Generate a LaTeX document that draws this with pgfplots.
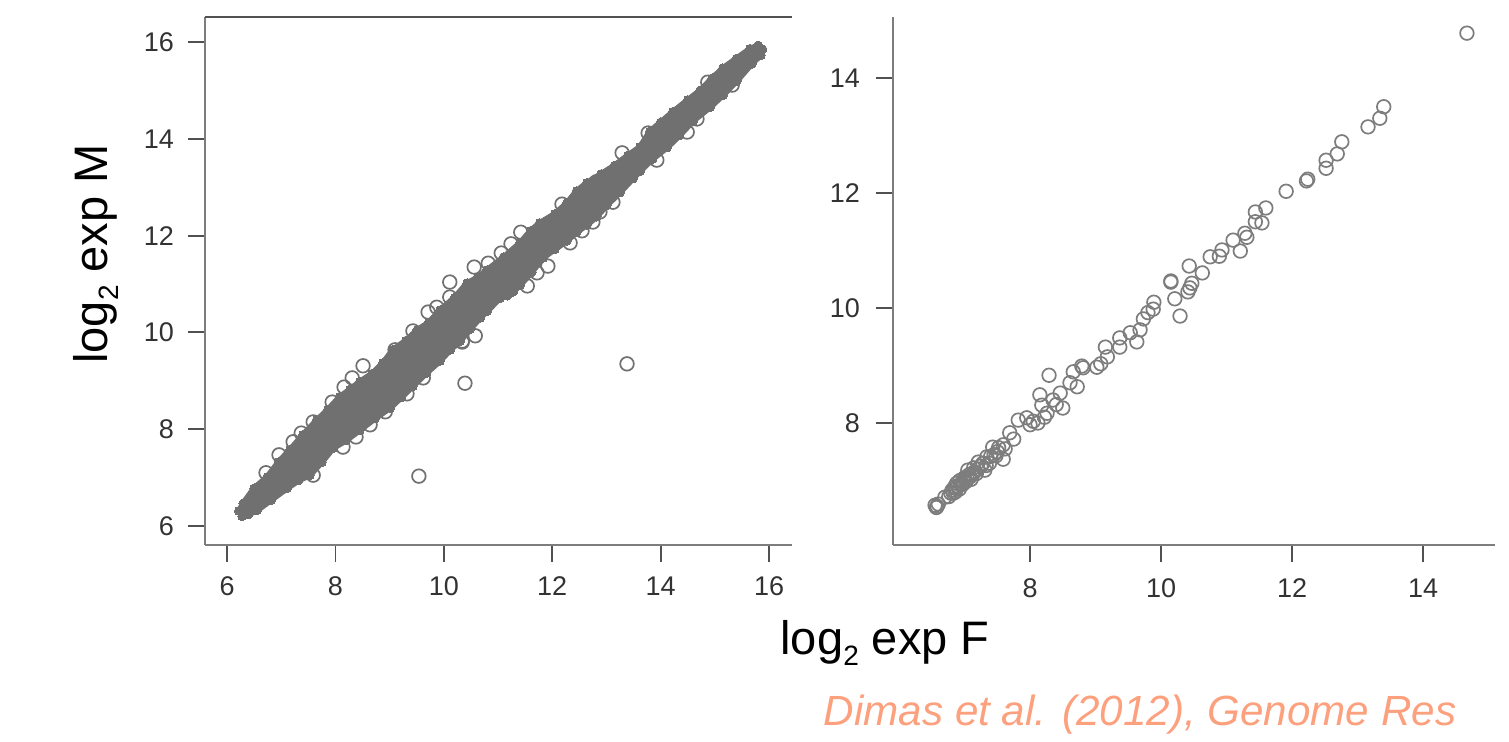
\documentclass[border=0pt]{standalone}
\usepackage{pgfplots}
\usepackage{pgfplotstable}
\pgfplotsset{compat=1.18}
\usepackage{fontspec}
\setmainfont{Liberation Sans}
\definecolor{pt}{RGB}{112,112,112}
\definecolor{ptr}{RGB}{125,125,125}
\definecolor{sp}{RGB}{125,125,125}
\definecolor{tx}{RGB}{50,50,50}
\definecolor{cite}{RGB}{252,160,125}
\pgfplotstableread[row sep=\\]{
x y\\
6.22 6.31\\ 6.30 6.47\\ 6.50 6.78\\ 6.74 7.01\\ 6.95 7.32\\ 7.16 7.57\\ 7.40 7.88\\ 7.66 8.19\\ 7.86 8.40\\ 8.08 8.67\\ 8.27 8.82\\ 8.45 8.98\\ 8.68 9.15\\ 8.88 9.37\\ 9.06 9.64\\ 9.30 9.83\\ 9.51 10.05\\ 9.72 10.20\\ 9.93 10.46\\ 10.20 10.72\\ 10.43 11.02\\ 10.62 11.13\\ 10.80 11.29\\ 11.10 11.55\\ 11.41 11.85\\ 11.60 12.10\\ 11.77 12.26\\ 12.05 12.45\\ 12.27 12.67\\ 12.45 12.92\\ 12.64 13.09\\ 12.90 13.27\\ 13.15 13.45\\ 13.40 13.66\\ 13.62 13.83\\ 13.80 14.15\\ 14.00 14.34\\ 14.23 14.56\\ 14.50 14.80\\ 14.73 15.00\\ 14.95 15.25\\ 15.15 15.46\\ 15.40 15.66\\ 15.65 15.86\\ 15.80 15.93\\ 15.88 15.85\\ 15.85 15.73\\
15.68 15.55\\ 15.41 15.20\\ 15.15 14.90\\ 14.91 14.65\\ 14.60 14.37\\ 14.35 14.07\\ 14.12 13.82\\ 13.85 13.58\\ 13.62 13.33\\ 13.49 13.18\\ 13.25 12.89\\ 13.01 12.63\\ 12.82 12.39\\ 12.64 12.22\\ 12.45 12.07\\ 12.27 11.89\\ 12.05 11.72\\ 11.83 11.54\\ 11.62 11.24\\ 11.41 10.98\\ 11.28 10.84\\ 11.17 10.76\\ 11.04 10.71\\ 10.80 10.44\\ 10.67 10.30\\ 10.48 10.06\\ 10.30 9.82\\ 10.12 9.64\\ 9.93 9.41\\ 9.68 9.16\\ 9.43 8.89\\ 9.22 8.66\\ 9.01 8.44\\ 8.73 8.22\\ 8.45 7.98\\ 8.20 7.77\\ 7.96 7.61\\ 7.75 7.32\\ 7.53 7.05\\ 7.32 6.94\\ 7.11 6.78\\ 6.82 6.54\\ 6.55 6.32\\ 6.40 6.24\\ 6.28 6.20\\
}\bandtable
\pgfplotsset{
  base/.style={
    scale only axis, height=264pt,
    axis x line=bottom, axis y line=left,
    axis line style={-, draw=sp, line width=1.2pt},
    tick align=outside, major tick length=8.5pt,
    tick style={draw=tx!85!white, line width=0.9pt},
    every tick label/.style={font=\fontsize{13.5}{15}\selectfont, text=tx},
    /pgf/number format/assume math mode=true,
    clip=false,
  },
  pts/.style={only marks, mark=o, mark size=3.4pt, mark options={draw=pt, line width=0.85pt}},
  ptsr/.style={only marks, mark=o, mark size=3.4pt, mark options={draw=ptr, line width=0.85pt}},
}
\newcommand{\sub}{\raisebox{-5.5pt}{\fontsize{14}{14}\selectfont 2}}
\begin{document}
\begin{tikzpicture}[x=1pt,y=1pt]
\path (0,0) rectangle (754.5,370);
\begin{axis}[base, at={(102.5pt,97.5pt)}, anchor=south west, width=293.5pt,
  xmin=5.594, xmax=16.424, ymin=5.607, ymax=16.517,
  xtick={6,8,10,12,14,16}, ytick={6,8,10,12,14,16},
  xticklabel style={yshift=-4pt}, yticklabel style={xshift=-3.5pt}]
\addplot[fill=pt, draw=pt, line width=3pt, line join=round] table {\bandtable} --cycle;
\addplot[only marks, mark=*, mark size=2.2pt, mark options={fill=pt, draw=pt, line width=0pt}] table {\bandtable};
\addplot[pts] coordinates {
(9.54,7.03)(10.39,8.95)(13.38,9.35)
(8.51,9.31)(8.31,9.06)(8.16,8.87)(7.94,8.56)(7.59,8.15)(7.37,7.92)(7.22,7.74)(6.96,7.47)(6.72,7.10)(7.59,7.05)(8.14,7.63)(8.38,7.84)(8.64,8.09)(8.92,8.36)(9.32,8.73)(9.62,9.06)(10.34,9.82)(10.58,9.93)(9.71,10.42)(9.87,10.52)(9.43,10.03)(9.10,9.64)
(10.11,11.04)(10.56,11.35)(10.82,11.43)(11.06,11.64)(11.42,12.07)(11.24,11.83)(12.18,12.65)(11.92,11.37)(11.72,11.23)(11.54,10.96)(10.34,9.80)(10.11,10.73)(12.33,11.85)(12.55,12.10)(12.75,12.28)(12.88,12.49)(13.12,12.69)
(14.87,15.17)(14.49,14.14)(13.93,13.56)(14.67,14.41)(13.77,14.12)(15.32,15.11)(13.29,13.71)(12.81,13.11)(14.43,14.60)
};
\draw[draw=tx!85!white, line width=0.8pt] (rel axis cs:0,1) -- (rel axis cs:1,1);
\end{axis}
\begin{axis}[base, at={(446.5pt,97.5pt)}, anchor=south west, width=301pt,
  xmin=5.908, xmax=15.099, ymin=5.878, ymax=15.061,
  xtick={8,10,12,14}, ytick={8,10,12,14},
  xticklabel style={yshift=-5pt}, yticklabel style={xshift=-4.5pt}]
\addplot[ptsr] coordinates {
(14.67,14.78)(13.40,13.50)(13.34,13.30)(13.16,13.15)(12.76,12.89)(12.69,12.68)(12.52,12.57)(12.52,12.43)(12.24,12.24)(12.22,12.21)(11.91,12.03)(11.60,11.74)(11.44,11.67)(11.54,11.48)(11.44,11.50)(11.28,11.30)(11.31,11.23)(11.10,11.18)(11.21,10.99)(10.93,11.01)(10.75,10.89)(10.89,10.90)(10.63,10.61)(10.43,10.73)(10.15,10.47)(10.15,10.45)(10.47,10.43)(10.44,10.35)(10.41,10.28)(10.21,10.16)(10.29,9.86)(9.89,10.10)(9.88,9.98)(9.73,9.81)(9.80,9.92)
(9.68,9.62)(9.63,9.41)(9.53,9.57)(9.37,9.48)(9.37,9.32)(9.15,9.32)(9.18,9.15)(9.02,8.97)(9.08,9.03)(8.79,8.99)(8.81,8.96)(8.66,8.89)(8.72,8.63)(8.61,8.70)(8.29,8.83)(8.46,8.52)(8.15,8.49)(8.50,8.26)(8.35,8.40)(8.18,8.31)(8.26,8.17)(8.12,8.00)(7.95,8.09)(7.82,8.05)(8.00,7.97)(7.69,7.83)(7.59,7.62)(7.43,7.58)(7.59,7.37)(7.34,7.41)(7.21,7.32)(7.31,7.18)(7.05,7.18)(7.08,7.06)(6.93,7.00)(6.85,6.89)(6.81,6.83)(6.70,6.71)(6.55,6.57)(6.58,6.55)(6.60,6.59)(6.57,6.53)
(7.50,7.50)(7.45,7.45)(7.38,7.30)(7.25,7.25)(7.15,7.15)(7.10,7.02)(7.00,7.05)(6.97,6.93)(6.92,6.85)(6.88,6.95)(6.86,6.80)(7.75,7.72)(7.62,7.55)(8.22,8.10)(8.05,8.03)(8.40,8.32)
(6.76,6.72)(6.79,6.78)(6.83,6.78)(6.87,6.86)(6.90,6.90)(6.95,6.95)(6.98,6.99)(7.02,6.98)(7.04,7.04)(7.07,7.10)(7.12,7.10)(7.18,7.12)(7.14,7.22)(7.20,7.20)(7.28,7.30)(7.33,7.26)(7.40,7.42)(7.48,7.43)(7.52,7.57)
};
\end{axis}
\node[rotate=90, font=\fontsize{23.5}{28}\selectfont, text=black] at (48,243) {log\sub{} exp M};
\node[font=\fontsize{23.5}{28}\selectfont, text=black] at (442.5,48.5) {log\sub{} exp F};
\node[font=\fontsize{21.1}{24}\selectfont\itshape, text=cite] at (570,12.5) {Dimas et al. (2012), Genome Res};
\end{tikzpicture}
\end{document}
